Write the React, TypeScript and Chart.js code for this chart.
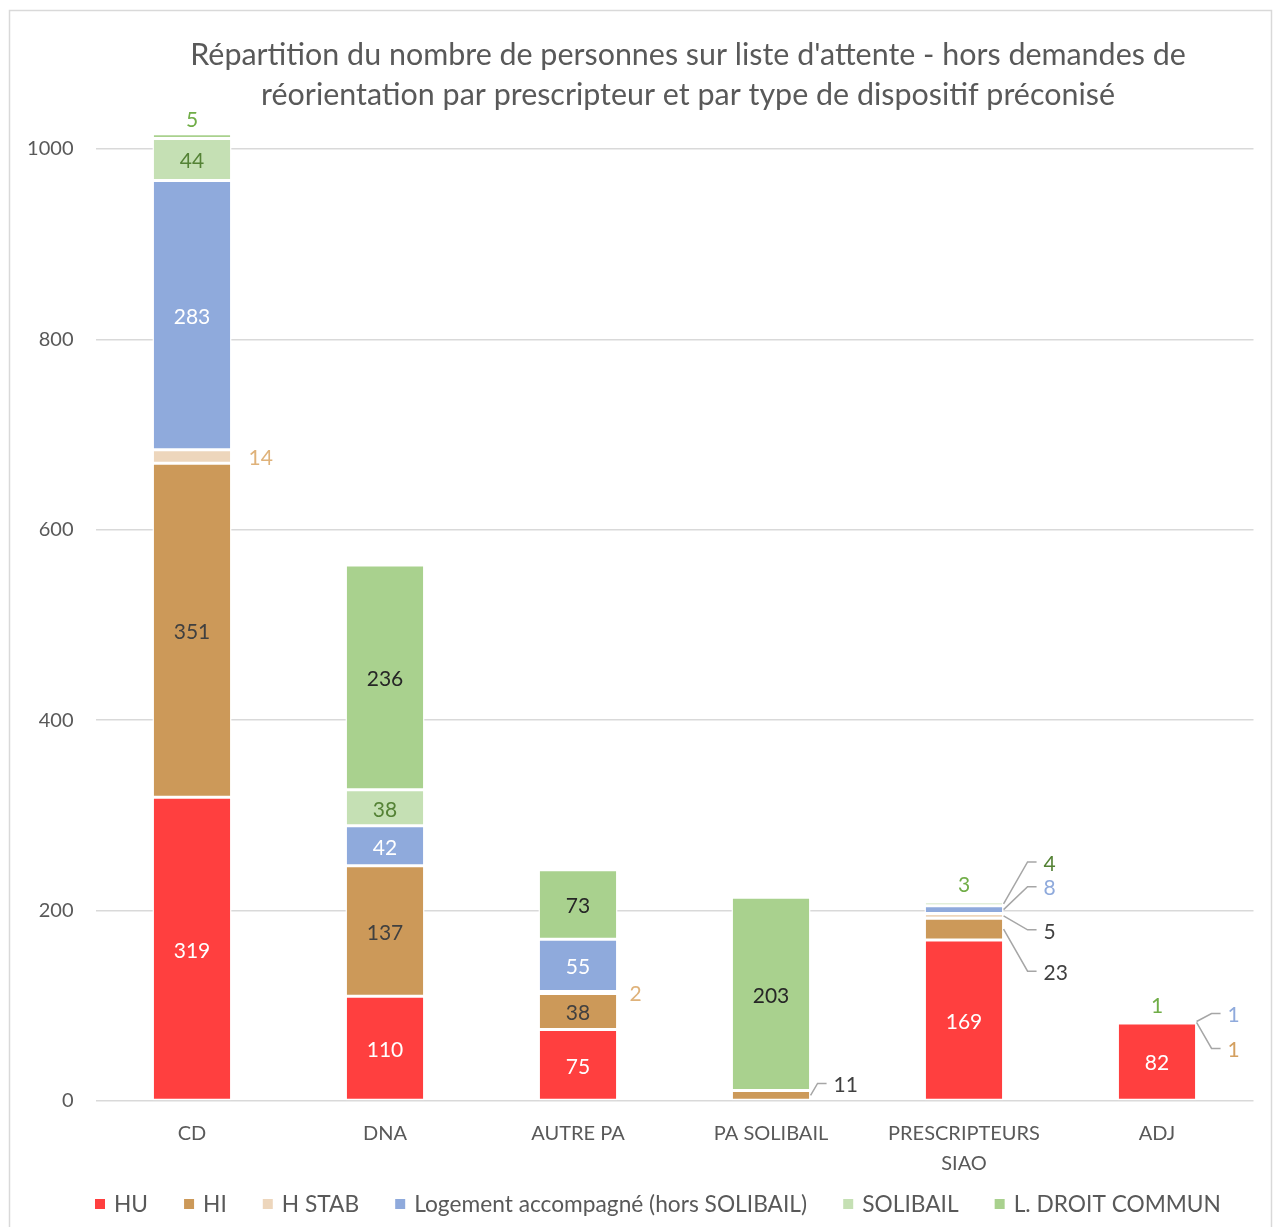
import React, { useEffect, useRef } from "react";
import { Chart, registerables } from "chart.js";

Chart.register(...registerables);

const titleLines = [
  "Répartition du nombre de personnes sur liste d'attente - hors demandes de",
  "réorientation par prescripteur et par type de dispositif préconisé",
];
const categories: (string | string[])[] = ["CD", "DNA", "AUTRE PA", "PA SOLIBAIL", ["PRESCRIPTEURS", "SIAO"], "ADJ"];
const seriesNames = ["HU", "HI", "H STAB", "Logement accompagné (hors SOLIBAIL)", "SOLIBAIL", "L. DROIT COMMUN"];
const hu = [319, 110, 75, 0, 169, 82];
const hi = [351, 137, 38, 11, 23, 1];
const hStab = [14, 0, 2, 0, 5, 0];
const logement = [283, 42, 55, 0, 8, 1];
const solibail = [44, 38, 0, 0, 4, 0];
const droitCommun = [5, 236, 73, 203, 3, 1];
const yTicks = [0, 200, 400, 600, 800, 1000];

const seriesColors = ["#FF3F3F", "#CC9959", "#EDD6BC", "#8FAADC", "#C5E0B4", "#A9D18E"];
const insideLabelColors = ["#FFFFFF", "#404040", "#404040", "#FFFFFF", "#548235", "#262626"];

const FONT = "Lato, 'Open Sans', sans-serif";

// label placement rules: key = datasetIndex-categoryIndex
type Rule = { mode: "above" | "right" | "callout"; color: string; dy?: number; lx?: number; tx?: number };
const LABEL_RULES: Record<string, Rule> = {
  "5-0": { mode: "above", color: "#70AD47" },
  "2-0": { mode: "right", color: "#DFB27A", tx: 18 },
  "2-2": { mode: "right", color: "#DFB27A", tx: 13 },
  "1-3": { mode: "callout", color: "#404040", dy: -12, lx: 8 },
  "5-4": { mode: "above", color: "#70AD47" },
  "4-4": { mode: "callout", color: "#548235", dy: -42, lx: 25 },
  "3-4": { mode: "callout", color: "#8FAADC", dy: -23, lx: 25 },
  "2-4": { mode: "callout", color: "#404040", dy: 14, lx: 25 },
  "1-4": { mode: "callout", color: "#404040", dy: 42, lx: 25 },
  "5-5": { mode: "above", color: "#70AD47" },
  "3-5": { mode: "callout", color: "#8FAADC", dy: -8, lx: 16 },
  "1-5": { mode: "callout", color: "#D4A060", dy: 26, lx: 16 },
};

const framePlugin = {
  id: "frame",
  beforeDraw(chart: any) {
    const ctx = chart.ctx;
    ctx.save();
    ctx.fillStyle = "#FFFFFF";
    ctx.fillRect(0, 0, chart.width, chart.height);
    ctx.strokeStyle = "#D9D9D9";
    ctx.lineWidth = 1.5;
    ctx.strokeRect(9.5, 10.5, 1262, 1240);
    // title
    ctx.fillStyle = "#595959";
    ctx.textAlign = "center";
    ctx.textBaseline = "alphabetic";
    ctx.font = `100px ${FONT}`;
    const w1 = ctx.measureText(titleLines[0]).width;
    const size = (996 / w1) * 100;
    ctx.font = `${size}px ${FONT}`;
    ctx.fillText(titleLines[0], 688, 65);
    ctx.fillText(titleLines[1], 688, 105);
    ctx.restore();
  },
  afterDraw(chart: any) {
    const ctx = chart.ctx;
    ctx.save();
    ctx.font = `100px ${FONT}`;
    const widths = seriesNames.map((n) => ctx.measureText(n).width / 100);
    const sumW = widths.reduce((a, b) => a + b, 0);
    const gap = 36, box = 10, boxGap = 9;
    const f = (1126 - gap * (seriesNames.length - 1) - (box + boxGap) * seriesNames.length) / sumW;
    ctx.font = `${f}px ${FONT}`;
    ctx.textBaseline = "middle";
    ctx.textAlign = "left";
    let x = 95;
    const cy = 1204;
    seriesNames.forEach((n, i) => {
      ctx.fillStyle = seriesColors[i];
      ctx.fillRect(x, cy - 5, box, box);
      ctx.fillStyle = "#595959";
      ctx.fillText(n, x + box + boxGap, cy + 1);
      x += box + boxGap + widths[i] * f + gap;
    });
    ctx.restore();
  },
};

const labelPlugin = {
  id: "segLabels",
  afterDatasetsDraw(chart: any) {
    const ctx = chart.ctx;
    ctx.save();
    ctx.font = `21px ${FONT}`;
    ctx.textBaseline = "middle";
    chart.data.datasets.forEach((ds: any, di: number) => {
      const meta = chart.getDatasetMeta(di);
      meta.data.forEach((el: any, ci: number) => {
        const v = ds.data[ci];
        if (!v) return;
        const { x, y, base, width } = el.getProps(["x", "y", "base", "width"], true);
        const cy = (y + base) / 2;
        const right = x + width / 2 - 1;
        const rule = LABEL_RULES[`${di}-${ci}`];
        const t = 2; // baseline nudge
        if (!rule) {
          ctx.textAlign = "center";
          ctx.fillStyle = insideLabelColors[di];
          ctx.fillText(String(v), x, cy + t);
          return;
        }
        ctx.fillStyle = rule.color;
        if (rule.mode === "above") {
          const top = Math.min(y, base);
          ctx.textAlign = "center";
          ctx.fillText(String(v), x, top - 16 + t);
        } else if (rule.mode === "right") {
          ctx.textAlign = "left";
          ctx.fillText(String(v), right + (rule.tx || 16), cy + (rule.dy || 0) + t);
        } else {
          const ly = cy + (rule.dy || 0);
          const lx = rule.lx || 20;
          ctx.strokeStyle = "#A6A6A6";
          ctx.lineWidth = 1.5;
          ctx.beginPath();
          ctx.moveTo(right + 1, cy);
          ctx.lineTo(right + lx, ly);
          ctx.lineTo(right + lx + 9, ly);
          ctx.stroke();
          ctx.textAlign = "left";
          ctx.fillText(String(v), right + lx + 16, ly + t);
        }
      });
    });
    ctx.restore();
  },
};

export default function App() {
  const ref = useRef<HTMLCanvasElement | null>(null);
  useEffect(() => {
    if (!ref.current) return;
    const series = [hu, hi, hStab, logement, solibail, droitCommun];
    const chart = new Chart(ref.current, {
      type: "bar",
      data: {
        labels: categories as any,
        datasets: series.map((d, i) => ({
          label: seriesNames[i],
          data: d,
          backgroundColor: seriesColors[i],
          borderColor: "#FFFFFF",
          borderWidth: 1.5,
          borderSkipped: false,
          barPercentage: 0.41,
          categoryPercentage: 1,
        })),
      },
      options: {
        animation: false,
        responsive: false,
        maintainAspectRatio: false,
        layout: { padding: { top: 101.4, right: 23.5, bottom: 0, left: 0 } },
        plugins: {
          legend: { display: false },
          title: { display: false },
          tooltip: { enabled: false },
        },
        scales: {
          x: {
            stacked: true,
            grid: { display: false, drawTicks: false },
            border: { display: false },
            ticks: {
              color: "#595959",
              font: { family: FONT, size: 20, lineHeight: 1.5 },
              padding: 18,
              maxRotation: 0,
              autoSkip: false,
            },
            afterFit: (s: any) => {
              s.height = 126;
            },
          },
          y: {
            stacked: true,
            min: 0,
            max: 1050,
            grid: { color: "#D9D9D9", lineWidth: 1.5, drawTicks: false },
            border: { display: false },
            ticks: {
              stepSize: 200,
              color: "#595959",
              font: { family: FONT, size: 20 },
              padding: 22,
              callback: (v: any) => String(v),
            },
            afterBuildTicks: (s: any) => {
              s.ticks = yTicks.map((v) => ({ value: v }));
            },
            afterFit: (s: any) => {
              s.width = 95.5;
            },
          },
        },
      },
      plugins: [framePlugin, labelPlugin],
    });
    return () => chart.destroy();
  }, []);
  return (
    <div style={{ position: "fixed", left: 0, top: 0, width: 1277, height: 1227, background: "#fff" }}>
      <canvas ref={ref} width={1277} height={1227} style={{ width: 1277, height: 1227, display: "block" }} />
    </div>
  );
}
